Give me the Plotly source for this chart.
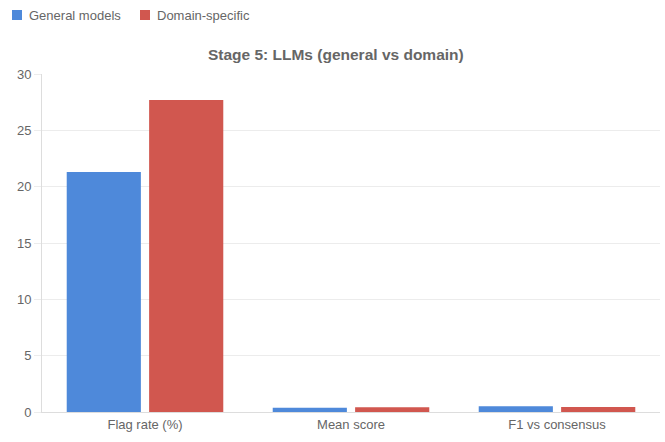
import plotly.graph_objects as go

# Stage 5 comparison: general-purpose vs domain-specific LLMs
categories = ["Flag rate (%)", "Mean score", "F1 vs consensus"]
series_names = ["General models", "Domain-specific"]
general_models = [21.3, 0.38, 0.5]
domain_specific = [27.7, 0.42, 0.45]
colors = ["#4e89da", "#d1574f"]

FONT = "Liberation Sans, Arial, Helvetica, sans-serif"
TEXT = "#666666"
W, H = 665, 442
M = dict(l=42, r=5, t=74, b=30)
PW = W - M["l"] - M["r"]
PH = H - M["t"] - M["b"]


def px_x(px):
    return (px - M["l"]) / PW


def px_y(py):
    return (H - M["b"] - py) / PH


fig = go.Figure()
for name, vals, col in zip(series_names, [general_models, domain_specific], colors):
    fig.add_trace(go.Bar(name=name, x=categories, y=vals, showlegend=False,
                         marker=dict(color=col, line=dict(width=0))))

# Compact legend row along the top-left edge
legend_boxes = [12, 140]
shapes, annotations = [], []
for left, name, col in zip(legend_boxes, series_names, colors):
    shapes.append(dict(type="rect", xref="paper", yref="paper",
                       x0=px_x(left), x1=px_x(left + 10),
                       y0=px_y(20), y1=px_y(10),
                       fillcolor=col, line=dict(width=0)))
    annotations.append(dict(text=name, xref="paper", yref="paper",
                            x=px_x(left + 15), y=px_y(15),
                            xanchor="left", yanchor="middle", showarrow=False,
                            font=dict(size=13, color=TEXT, family=FONT)))

fig.update_layout(
    width=W, height=H,
    margin=M,
    paper_bgcolor="white", plot_bgcolor="white",
    barmode="group", bargap=0.2, bargroupgap=0.1,
    font=dict(family=FONT, size=13, color=TEXT),
    title=dict(text="<b>Stage 5: LLMs (general vs domain)</b>",
               x=0.505, xref="container", xanchor="center",
               y=1 - 55 / H, yref="container", yanchor="middle",
               font=dict(size=15.5, color=TEXT, family=FONT)),
    shapes=shapes,
    annotations=annotations,
    xaxis=dict(showgrid=False, showline=True, linecolor="#dddddd", linewidth=1,
               ticks="", tickfont=dict(size=13, color=TEXT)),
    yaxis=dict(range=[0, 30], dtick=5, showgrid=True, gridcolor="#ececec",
               showline=True, linecolor="#dddddd", linewidth=1, zeroline=False,
               ticks="outside", ticklen=7, tickcolor="#ececec",
               tickfont=dict(size=13, color=TEXT)),
)

fig.write_html("out.html")
